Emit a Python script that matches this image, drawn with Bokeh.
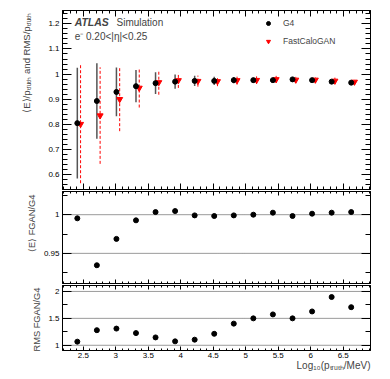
import numpy as np
from bokeh.plotting import figure
from bokeh.layouts import column
from bokeh.models import (Range1d, LinearAxis, FixedTicker, PrintfTickFormatter,
                          Span, Label, Title, Legend, LegendItem, ColumnDataSource)
from bokeh.transform import dodge
from bokeh.embed import file_html
from bokeh.resources import INLINE

# ---------------- data ----------------
log10_p = [2.408, 2.709, 3.010, 3.311, 3.612, 3.913, 4.214, 4.515,
           4.816, 5.117, 5.418, 5.720, 6.021, 6.322, 6.623]
g4_mean = [0.805, 0.893, 0.929, 0.952, 0.964, 0.970, 0.973, 0.973,
           0.976, 0.976, 0.976, 0.979, 0.976, 0.970, 0.966]
g4_rms = [0.220, 0.150, 0.097, 0.064, 0.043, 0.028, 0.020, 0.016,
          0.012, 0.010, 0.009, 0.008, 0.007, 0.007, 0.006]
fgan_mean = [0.801, 0.835, 0.900, 0.945, 0.967, 0.975, 0.972, 0.971,
             0.975, 0.976, 0.979, 0.977, 0.977, 0.973, 0.969]
fgan_rms = [0.235, 0.192, 0.127, 0.078, 0.049, 0.030, 0.022, 0.019,
            0.017, 0.015, 0.014, 0.012, 0.011, 0.013, 0.010]
ratio_mean = [0.9953, 0.9346, 0.9687, 0.9927, 1.0034, 1.0047, 0.9991, 0.9983,
              0.9991, 1.0000, 1.0026, 0.9983, 1.0013, 1.0026, 1.0034]
ratio_rms = [1.067, 1.28, 1.31, 1.226, 1.146, 1.073, 1.104, 1.213,
             1.402, 1.50, 1.573, 1.50, 1.628, 1.896, 1.707]

x_ticks = [2.5, 3, 3.5, 4, 4.5, 5, 5.5, 6, 6.5]
top_y_ticks = [0.6, 0.7, 0.8, 0.9, 1.0, 1.1, 1.2]
mean_ratio_ticks = [0.95, 1.0]
rms_ratio_ticks = [1.0, 1.5, 2.0]
mean_ratio_lines = [0.95, 1.0]
rms_ratio_lines = [1.0, 1.5, 2.0]

FONT = "Liberation Sans"

x_minor = [round(v, 2) for v in np.arange(2.2, 6.95, 0.1)]
top_minor = [round(v, 3) for v in np.arange(0.54, 1.26, 0.02)]
mean_minor = [0.925, 0.975, 1.025]
rms_minor = [1.25, 1.75]

src = ColumnDataSource(dict(
    x=log10_p, g4=g4_mean, fg=fgan_mean,
    g4_lo=[m - r for m, r in zip(g4_mean, g4_rms)],
    g4_hi=[m + r for m, r in zip(g4_mean, g4_rms)],
    fg_lo=[m - r for m, r in zip(fgan_mean, fgan_rms)],
    fg_hi=[m + r for m, r in zip(fgan_mean, fgan_rms)],
    rm=ratio_mean, rr=ratio_rms))

X_MIN, X_MAX = 2.18, 6.92
xr = Range1d(X_MIN, X_MAX)


def make_axis(ticks, minor, labels, major_in, minor_in, size="8px", standoff=3):
    a = LinearAxis(
        ticker=FixedTicker(ticks=ticks, minor_ticks=minor),
        formatter=PrintfTickFormatter(format="%g"),
        major_tick_in=major_in, major_tick_out=0,
        minor_tick_in=minor_in, minor_tick_out=0,
        axis_line_color="black", major_tick_line_color="black",
        minor_tick_line_color="black",
        major_label_text_font=FONT,
        major_label_text_font_size=size if labels else "0px",
        major_label_standoff=standoff if labels else 0,
        major_label_text_color="black" if labels else None)
    return a


def base_fig(height, yr, top, bottom):
    p = figure(width=378, height=height, x_range=xr, y_range=yr,
               output_backend="svg", toolbar_location=None,
               x_axis_location=None, y_axis_location=None,
               min_border_left=62, min_border_right=8,
               min_border_top=top, min_border_bottom=bottom)
    p.grid.visible = False
    p.outline_line_color = "black"
    p.background_fill_color = "white"
    return p


# ---------------- top panel ----------------
p1 = base_fig(190, Range1d(0.541, 1.253), 10, 1)
p1.add_layout(make_axis(top_y_ticks, top_minor, True, 9, 5), "left")
p1.add_layout(make_axis(top_y_ticks, top_minor, False, 9, 5), "right")
p1.add_layout(make_axis(x_ticks, x_minor, False, 6, 3), "below")
p1.add_layout(make_axis(x_ticks, x_minor, False, 6, 3), "above")

p1.segment(x0="x", y0="g4_lo", x1="x", y1="g4_hi", source=src,
           line_color="#555555", line_width=1.5)
p1.segment(x0=dodge("x", 0.05), y0="fg_lo", x1=dodge("x", 0.05), y1="fg_hi",
           source=src, line_color="#ff0000", line_width=1, line_dash="3 2")
r_fg = p1.scatter(x=dodge("x", 0.05), y="fg", source=src, marker="inverted_triangle",
                  size=6, fill_color="#ff0000", line_color="#ff0000")
r_g4 = p1.scatter(x="x", y="g4", source=src, marker="circle", size=5,
                  fill_color="black", line_color="black")

p1.add_layout(Label(x=2.367, y=1.184, text="ATLAS", text_font=FONT,
                    text_font_style="bold italic", text_font_size="10.5px"))
p1.add_layout(Label(x=3.011, y=1.184, text="Simulation", text_font=FONT,
                    text_font_size="10px"))
p1.add_layout(Label(x=2.367, y=1.128, text="e⁻ 0.20<|η|<0.25", text_font=FONT,
                    text_font_size="10px"))

legend = Legend(items=[LegendItem(label="G4", renderers=[r_g4]),
                       LegendItem(label="FastCaloGAN", renderers=[r_fg])],
                location=(201, 142), orientation="vertical",
                border_line_color=None, background_fill_alpha=0,
                label_text_font=FONT, label_text_font_size="8.5px",
                glyph_width=10, glyph_height=12, label_height=12,
                label_standoff=10, spacing=6, padding=0, margin=0)
p1.add_layout(legend)

p1.add_layout(Title(text="⟨E⟩/pₜᵣᵤₜₕ and RMS/pₜᵣᵤₜₕ", align="right",
                    text_font=FONT, text_font_size="9.5px",
                    text_font_style="normal", standoff=28, offset=2), "left")

# ---------------- middle panel ----------------
p2 = base_fig(94, Range1d(0.911, 1.030), 1, 1)
p2.add_layout(make_axis(mean_ratio_ticks, mean_minor, True, 9, 5), "left")
p2.add_layout(make_axis(mean_ratio_ticks, mean_minor, False, 9, 5), "right")
p2.add_layout(make_axis(x_ticks, x_minor, False, 4, 2), "below")
p2.add_layout(make_axis(x_ticks, x_minor, False, 4, 2), "above")
for v in mean_ratio_lines:
    p2.add_layout(Span(location=v, dimension="width", line_color="black",
                       line_alpha=0.8, line_dash="1 1", line_width=1))
p2.scatter(x="x", y="rm", source=src, marker="circle", size=5,
           fill_color="black", line_color="black")
p2.add_layout(Title(text="⟨E⟩ FGAN/G4", align="right", text_font=FONT,
                    text_font_size="9.3px", text_font_style="normal",
                    standoff=7, offset=3), "left")

# ---------------- bottom panel ----------------
Y3_MIN, Y3_MAX = 0.903, 2.11
p3 = base_fig(90, Range1d(Y3_MIN, Y3_MAX), 1, 24)
p3.add_layout(make_axis(rms_ratio_ticks, rms_minor, True, 9, 5), "left")
p3.add_layout(make_axis(rms_ratio_ticks, rms_minor, False, 9, 5), "right")
p3.add_layout(make_axis(x_ticks, x_minor, True, 4, 2, standoff=2), "below")
p3.add_layout(make_axis(x_ticks, x_minor, False, 4, 2), "above")
for v in rms_ratio_lines:
    p3.add_layout(Span(location=v, dimension="width", line_color="black",
                       line_alpha=0.8, line_dash="1 1", line_width=1))
p3.scatter(x="x", y="rr", source=src, marker="circle", size=5,
           fill_color="black", line_color="black")
p3.add_layout(Title(text="RMS FGAN/G4", align="right", text_font=FONT,
                    text_font_size="9.3px", text_font_style="normal",
                    standoff=8, offset=2), "left")

# x-axis title, right-aligned at the end of the axis
x_title_kw = dict(text="Log₁₀(pₜᵣᵤₜₕ/MeV)", align="right", text_font=FONT,
                  text_font_size="10px", text_font_style="normal",
                  text_line_height=0.9)
try:
    x_title = Title(standoff=-6, **x_title_kw)
except Exception:
    x_title = Title(standoff=0, **x_title_kw)
p3.add_layout(x_title, "below")

layout = column(p1, p2, p3, spacing=0)
open("out.html", "w").write(file_html(layout, INLINE))
